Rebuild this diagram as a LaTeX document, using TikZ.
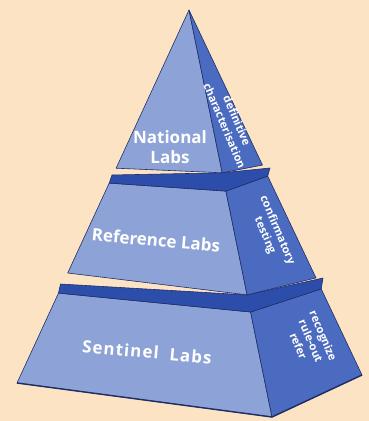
\documentclass[tikz,border=0pt]{standalone}
\usepackage{fontspec}
\newfontfamily\labfont{Open Sans}
\usepackage{tikz}
\definecolor{kbg}{HTML}{FBE3C4}
\definecolor{kfront}{HTML}{8DA2D6}
\definecolor{kside}{HTML}{4B6BC0}
\definecolor{kband}{HTML}{2C4EAA}
\definecolor{kline}{HTML}{1E2D66}
\tikzset{
  frontface/.style={fill=kfront, draw=kline, line width=0.5pt, line join=round},
  sideface/.style={fill=kside, draw=kline, line width=0.5pt, line join=round},
  bandface/.style={fill=kband, draw=kline, line width=0.5pt, line join=round},
  tierlabel/.style={font=\labfont\bfseries\fontsize{14.5}{17}\selectfont, text=white,
                    align=center, inner sep=0pt},
  sidelabel/.style={font=\labfont\bfseries\fontsize{9.5}{11.5}\selectfont, text=white,
                    align=center, inner sep=0pt, rotate=-67},
}

\begin{document}
\begin{tikzpicture}[x=0.03cm, y=-0.03cm]

  \fill[kbg] (0,0) rectangle (369,421);
  \useasboundingbox (0,0) rectangle (369,421);

  % corner points, top to bottom
  \coordinate (apex) at (189,10);
  \coordinate (l1) at (116.1,168.2);
  \coordinate (f1) at (222.2,172.8);
  \coordinate (r1) at (262.5,165.1);
  \coordinate (l2) at (109.2,183.1);
  \coordinate (f2) at (225.9,191.1);
  \coordinate (r2) at (267.7,176.1);
  \coordinate (l3) at (67.7,273.0);
  \coordinate (f3) at (247.1,294.9);
  \coordinate (r3) at (316.0,277.9);
  \coordinate (l4) at (58.5,293.1);
  \coordinate (f4) at (250.6,312.0);
  \coordinate (r4) at (321.2,288.9);
  \coordinate (l5) at (17,383);
  \coordinate (f5) at (272,417);
  \coordinate (r5) at (362,375);

  % bottom tier
  \draw[frontface] (l4) -- (f4) -- (f5) -- (l5) -- cycle;
  \draw[sideface] (f4) -- (r4) -- (r5) -- (f5) -- cycle;
  \draw[kline, line width=1.2pt, line join=round] (l5) -- (f5) -- (r5);
  \draw[bandface] (l4) -- (f4) -- (r4) -- (323,278) -- (f3) -- (60.5,284) -- cycle;

  % middle tier
  \draw[frontface] (l2) -- (f2) -- (f3) -- (l3) -- cycle;
  \draw[sideface] (f2) -- (r2) -- (r3) -- (f3) -- cycle;
  \draw[bandface] (l2) -- (f2) -- (r2) -- (270,168) -- (f1) -- (112,175) -- cycle;

  % top tier
  \draw[frontface] (apex) -- (l1) -- (f1) -- cycle;
  \draw[sideface] (apex) -- (f1) -- (r1) -- cycle;

  \node[tierlabel] (national) at (170,147) {National\\Labs};
  \node[sidelabel] (nationalside) at (231,123) {definitive\\characterisation};

  \node[tierlabel, rotate=-5] (reference) at (156,240) {Reference Labs};
  \node[sidelabel] (referenceside) at (271,233) {confirmatory\\testing};

  \node[tierlabel, rotate=-5, font=\labfont\bfseries\fontsize{14.5}{17}\addfontfeature{LetterSpace=6}]
    (sentinel) at (147,352) {Sentinel\ \ Labs};
  \node[sidelabel] (sentinelside) at (311,341) {recognize\\rule-out\\refer};

\end{tikzpicture}
\end{document}
